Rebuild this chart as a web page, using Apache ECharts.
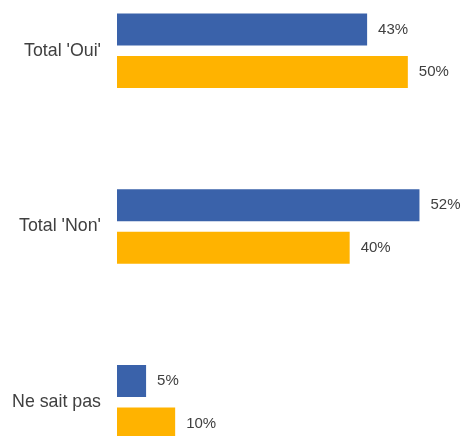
<!DOCTYPE html>
<html>
<head>
<meta charset="utf-8">
<script src="https://cdn.jsdelivr.net/npm/echarts@6/dist/echarts.min.js"></script>
<style>
  html, body { margin: 0; padding: 0; background: #fff; overflow: hidden; }
  .wrapper { width: 466px; height: 436px; overflow: hidden; position: relative; }
  /* the reference is cropped: the chart runs past the top and bottom edges */
  #chart { position: absolute; left: 0; top: -37px; width: 466px; height: 527px; }
</style>
</head>
<body>
<div class="wrapper"><div id="chart"></div></div>
<script>
// categories, top to bottom
var categories = ["Total 'Oui'", "Total 'Non'", "Ne sait pas"]
// two series (no legend in the picture)
var serieA = [43, 52, 5]
var serieB = [50, 40, 10]

var myChart = echarts.init(document.getElementById("chart"))

var labelStyle = {
  show: true,
  position: "right",
  distance: 11,
  color: "#404040",
  fontSize: 15,
  fontFamily: "Liberation Sans",
  formatter: "{c}%"
}

var option = {
  animation: false,
  grid: {
    left: 117,
    width: 351,
    top: 0,
    bottom: 0
  },
  xAxis: {
    type: "value",
    min: 0,
    max: 60,
    show: false
  },
  yAxis: {
    type: "category",
    data: categories,
    inverse: true,
    axisLine: { show: false },
    axisTick: { show: false },
    axisLabel: {
      margin: 16,
      color: "#404040",
      fontSize: 17.8,
      fontFamily: "Liberation Sans"
    }
  },
  series: [
    {
      name: "A",
      type: "bar",
      data: serieA,
      barWidth: 32,
      barGap: "33%",
      itemStyle: { color: "#3a62aa" },
      label: labelStyle
    },
    {
      name: "B",
      type: "bar",
      data: serieB,
      barWidth: 32,
      barGap: "33%",
      itemStyle: { color: "#ffb300" },
      label: labelStyle
    }
  ]
}
myChart.setOption(option)
</script>
</body>
</html>
